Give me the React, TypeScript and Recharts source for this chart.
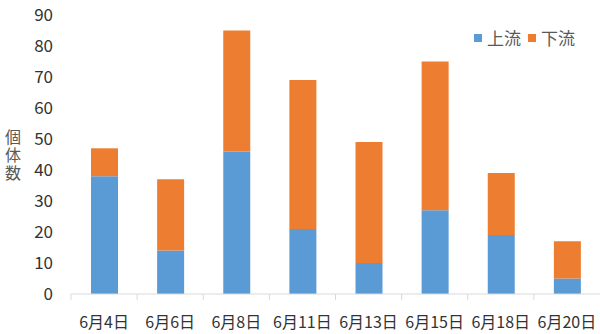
import { BarChart, Bar, XAxis, YAxis, Label } from 'recharts';

const categories = ['6月4日', '6月6日', '6月8日', '6月11日', '6月13日', '6月15日', '6月18日', '6月20日'];
const upstream = [38, 14, 46, 21, 10, 27, 19, 5];
const downstream = [9, 23, 39, 48, 39, 48, 20, 12];
const yTicks = [0, 10, 20, 30, 40, 50, 60, 70, 80, 90];

const COLORS = {
  upstream: '#5B9BD5',
  downstream: '#ED7D31',
};

const FONT = '"Noto Sans CJK JP", "Noto Sans", sans-serif';
const TEXT = '#333333';

const chartData = categories.map((name, i) => ({
  name,
  upstream: upstream[i],
  downstream: downstream[i],
}));

const XTick = (props: any) => {
  const { x, y, payload } = props;
  const half = payload && payload.offset ? payload.offset : 33;
  return (
    <g>
      <line x1={x - half} y1={y - 8} x2={x - half} y2={y - 2} stroke="#d9d9d9" />
      <text x={x} y={y + 26} textAnchor="middle" fontSize={16} fill={TEXT} fontFamily={FONT}>
        {payload.value}
      </text>
    </g>
  );
};

const YLabel = () => (
  <text
    x={13}
    y={129}
    fontSize={16}
    fill="#595959"
    fontFamily={FONT}
    letterSpacing={2}
    style={{ writingMode: 'vertical-rl' }}
  >
    個体数
  </text>
);

const legendItems = [
  { label: '上流', color: COLORS.upstream },
  { label: '下流', color: COLORS.downstream },
];

export default function App() {
  return (
    <div style={{ position: 'absolute', left: 0, top: 0, width: 600, height: 334, background: '#fff' }}>
      <BarChart width={600} height={334} data={chartData} margin={{ top: 15, right: 0, bottom: 0, left: 0 }}>
        <XAxis
          dataKey="name"
          height={40}
          axisLine={{ stroke: '#d9d9d9' }}
          tickLine={false}
          tick={<XTick />}
          interval={0}
        />
        <YAxis
          width={71}
          domain={[0, 90]}
          ticks={yTicks}
          axisLine={false}
          tickLine={false}
          tickSize={0}
          tickMargin={18}
          tick={{ fontSize: 17, fill: TEXT, fontFamily: FONT }}
        >
          <Label content={<YLabel />} />
        </YAxis>
        <Bar dataKey="upstream" stackId="a" fill={COLORS.upstream} barSize={27} isAnimationActive={false} />
        <Bar dataKey="downstream" stackId="a" fill={COLORS.downstream} barSize={27} isAnimationActive={false} />
      </BarChart>
      <div
        style={{
          position: 'absolute',
          top: 25,
          left: 474,
          display: 'flex',
          alignItems: 'center',
          fontFamily: FONT,
          fontSize: 17,
          color: '#595959',
        }}
      >
        {legendItems.map((item) => (
          <div key={item.label} style={{ display: 'flex', alignItems: 'center', marginRight: 7 }}>
            <span style={{ width: 8, height: 8, background: item.color, marginRight: 5 }} />
            <span>{item.label}</span>
          </div>
        ))}
      </div>
    </div>
  );
}
